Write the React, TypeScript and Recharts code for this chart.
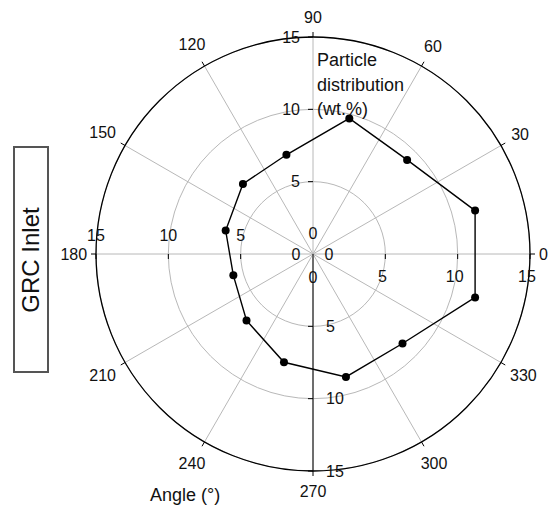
import { RadarChart, Radar, PolarGrid, PolarAngleAxis, PolarRadiusAxis } from "recharts";

// particle distribution (wt %) read at each sampling angle
const angles = [15, 45, 75, 105, 135, 165, 195, 225, 255, 285, 315, 345];
const distribution = [11.6, 9.2, 9.7, 7.1, 6.85, 6.25, 5.7, 6.5, 7.75, 8.8, 8.75, 11.6];
const angleTicks = [0, 30, 60, 90, 120, 150, 180, 210, 240, 270, 300, 330];
const radiusTicks = [0, 5, 10, 15];

const CX = 313;
const CY = 254;
const R = 217;

const data = angles.map((a, i) => ({ angle: a, value: distribution[i] }));

function AngleTick(props: any) {
  const { x, y, payload } = props;
  const a = (payload.coordinate * Math.PI) / 180;
  const label = String(payload.value);
  const cos = Math.cos(a);
  const sin = Math.sin(a);
  const d = 4 + label.length * 4.4 * Math.abs(cos) + 11 * Math.abs(sin);
  return (
    <text x={x + d * cos} y={y - d * sin} textAnchor="middle" dominantBaseline="central" fontSize={16} fill="#111">
      {label}
    </text>
  );
}

// one radius axis (pointing down) draws its labels on all four axes
function RadiusTick(props: any) {
  const { y, payload } = props;
  const v = payload.value;
  const r = y - CY;
  const t = { fontSize: 16, fill: "#111", dominantBaseline: "central" as const };
  if (v === 0) {
    return (
      <g>
        <text {...t} x={CX} y={CY - 21} textAnchor="middle">0</text>
        <text {...t} x={CX - 17} y={CY} textAnchor="middle">0</text>
        <text {...t} x={CX + 16} y={CY} textAnchor="middle">0</text>
        <text {...t} x={CX} y={CY + 23} textAnchor="middle">0</text>
      </g>
    );
  }
  return (
    <g>
      <line x1={CX + r} y1={CY} x2={CX + r} y2={CY + 5} stroke="#000" />
      <text {...t} x={CX + r - 3} y={CY + 22} textAnchor="middle">{v}</text>
      <line x1={CX} y1={CY - r} x2={CX - 5} y2={CY - r} stroke="#000" />
      <text {...t} x={CX - 13} y={CY - r} textAnchor="end">{v}</text>
      <line x1={CX - r} y1={CY} x2={CX - r} y2={CY + 5} stroke="#000" />
      <text {...t} x={CX - r} y={CY - 19} textAnchor="middle">{v}</text>
      <line x1={CX} y1={CY + r} x2={CX - 5} y2={CY + r} stroke="#000" />
      <text {...t} x={CX + 13} y={CY + r} textAnchor="start">{v}</text>
    </g>
  );
}

export default function App() {
  return (
    <div
      style={{
        position: "absolute",
        left: 0,
        top: 0,
        width: 555,
        height: 505,
        background: "#fff",
        fontFamily: "'Liberation Sans', Arial, sans-serif",
        color: "#111",
      }}
    >
      <RadarChart
        width={555}
        height={505}
        data={data}
        cx={CX}
        cy={CY}
        outerRadius={R}
        startAngle={0}
        endAngle={360}
        margin={{ top: 0, right: 0, bottom: 0, left: 0 }}
      >
        <PolarGrid gridType="circle" stroke="#b8b8b8" />
        <PolarAngleAxis
          dataKey="angle"
          type="number"
          domain={[0, 360]}
          ticks={angleTicks}
          tick={AngleTick}
          tickSize={5}
          tickLine={{ stroke: "#000" }}
          axisLine={{ stroke: "#000", strokeWidth: 1.3 }}
          axisLineType="circle"
        />
        <PolarRadiusAxis
          angle={270}
          type="number"
          domain={[0, 15]}
          tickCount={radiusTicks.length}
          tick={RadiusTick}
          axisLine={{ stroke: "#000" }}
        />
        <Radar
          dataKey="value"
          stroke="#000"
          strokeWidth={1.4}
          fill="none"
          dot={{ r: 4, fill: "#000", stroke: "#000", strokeWidth: 0 }}
          isAnimationActive={false}
        />
      </RadarChart>

      <div style={{ position: "absolute", left: 317, top: 48, fontSize: 18, lineHeight: "24.5px" }}>
        Particle
        <br />
        distribution
        <br />
        (wt.%)
      </div>

      <div style={{ position: "absolute", left: 150, top: 484, fontSize: 18, lineHeight: "22px" }}>
        Angle (°)
      </div>

      <div
        style={{
          position: "absolute",
          left: 13,
          top: 146,
          width: 36,
          height: 227,
          boxSizing: "border-box",
          border: "2px solid #555",
          display: "flex",
          alignItems: "center",
          justifyContent: "center",
        }}
      >
        <div style={{ transform: "rotate(-90deg)", whiteSpace: "nowrap", fontSize: 24 }}>GRC Inlet</div>
      </div>
    </div>
  );
}
